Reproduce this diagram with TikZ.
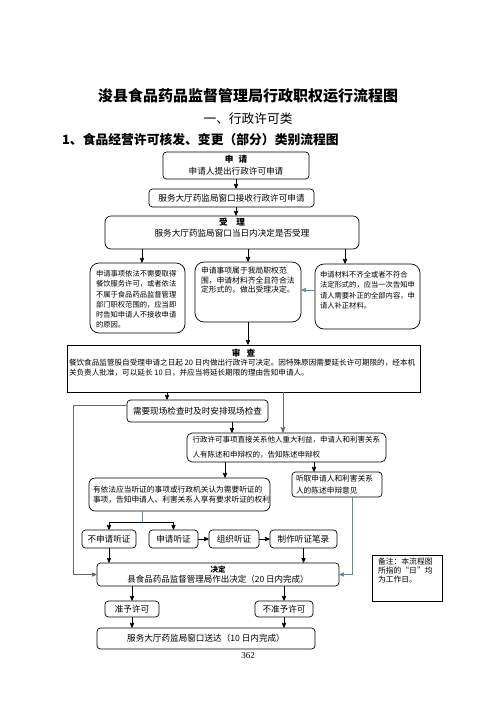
\documentclass[tikz,border=0pt]{standalone}
\usepackage{fontspec}
\setmainfont{Noto Sans CJK SC}
\newfontfamily\pagefont{Liberation Serif}
\usetikzlibrary{arrows}
\definecolor{linkblue}{RGB}{96,136,176}
\definecolor{linkgray}{RGB}{105,105,105}

\begin{document}
\begin{tikzpicture}[
  x=1pt, y=-1pt,
  >=stealth',
  stepbox/.style={draw,line width=0.7pt,rounded corners=3.5pt,inner sep=0pt,align=center,font=\fontsize{8.6}{12}\selectfont},
  tallbox/.style={draw,line width=0.7pt,rounded corners=9pt,inner xsep=6pt,inner ysep=0pt},
  flow/.style={->,line width=0.8pt},
  blueflow/.style={->,line width=0.8pt,linkblue},
  grayflow/.style={->,line width=1pt,linkgray}
  ]

  \useasboundingbox (0,0) rectangle (496,702);

  % headings
  \node[font=\bfseries\fontsize{15}{15}\selectfont] (title) at (248,96) {浚县食品药品监督管理局行政职权运行流程图};
  \node[font=\fontsize{12.7}{13}\selectfont] (kind) at (248,119) {一、行政许可类};
  \node[anchor=west,inner sep=0pt,font=\bfseries\fontsize{12.8}{13}\selectfont] (cat) at (62,140) {1、食品经营许可核发、变更（部分）类别流程图};

  % application and acceptance
  \node[stepbox,minimum width=146,minimum height=27] (apply) at (236,165.5) {\textbf{申\hspace{0.6em}请}\\申请人提出行政许可申请};
  \node[stepbox,minimum width=165,minimum height=18] (recv) at (231.5,198) {服务大厅药监局窗口接收行政许可申请};
  \node[tallbox,rounded corners=6pt,inner xsep=0pt] (accept) at (232,232.5) {\parbox[c][33pt][t]{254pt}{\centering\fontsize{8.6}{11}\selectfont\vspace*{1.7pt}\textbf{受\hspace{1em}理}\\服务大厅药监局窗口当日内决定是否受理}};

  \node[tallbox] (reject) at (137.5,298) {\parbox[c][70pt][t]{83pt}{\fontsize{7.3}{10.3}\selectfont\vspace*{7.3pt}申请事项依法不需要取得\\餐饮服务许可，或者依法\\不属于食品药品监督管理\\部门职权范围的，应当即\\时告知申请人不接收申请\\的原因。}};
  \node[tallbox] (okbox) at (248,292) {\parbox[c][60pt][t]{94pt}{\fontsize{7.8}{9.7}\selectfont\vspace*{5pt}申请事项属于我局职权范\\围，申请材料齐全且符合法\\定形式的，做出受理决定。}};
  \node[tallbox,inner xsep=5pt] (fixbox) at (367.5,296.5) {\parbox[c][65pt][t]{95pt}{\fontsize{7.3}{10.3}\selectfont\vspace*{7.2pt}申请材料不齐全或者不符合\\法定形式的，应当一次告知申\\请人需要补正的全部内容，申\\请人补正材料。}};

  % review
  \node[draw,line width=0.7pt,inner xsep=2pt,inner ysep=0pt] (review) at (243.5,368.5) {\parbox[c][47pt][t]{349pt}{\fontsize{7.6}{9.8}\selectfont\vspace*{3.7pt}\makebox[\linewidth]{\fontsize{8.6}{9.8}\selectfont\bfseries 审\hspace{0.7em}查}\\餐饮食品监管股自受理申请之日起 20 日内做出行政许可决定。因特殊原因需要延长许可期限的，经本机\\关负责人批准，可以延长 10 日，并应当将延长期限的理由告知申请人。}};

  \node[stepbox,minimum width=141,minimum height=22] (onsite) at (197.5,411) {需要现场检查时及时安排现场检查};
  \node[stepbox,rounded corners=5pt,minimum width=199,minimum height=29,text width=188,align=left,font=\fontsize{7.5}{15}\selectfont] (notice) at (286.5,447.5) {行政许可事项直接关系他人重大利益，申请人和利害关系\\人有陈述和申辩权的，告知陈述申辩权};
  \node[stepbox,rounded corners=6pt,minimum width=181,minimum height=33,text width=173,align=left,font=\fontsize{7.7}{10}\selectfont] (hearing) at (179.5,494.5) {有依法应当听证的事项或行政机关认为需要听证的\\事项，告知申请人、利害关系人享有要求听证的权利};
  \node[stepbox,minimum width=90,minimum height=25,text width=82,align=left,font=\fontsize{7.7}{12}\selectfont] (listen) at (337,484.5) {听取申请人和利害关系\\人的陈述申辩意见};

  % hearing row
  \node[stepbox,minimum width=54,minimum height=18] (nohear) at (109,539) {不申请听证};
  \node[stepbox,minimum width=49,minimum height=18] (askhear) at (173.5,539) {申请听证};
  \node[stepbox,minimum width=50,minimum height=18] (orghear) at (234,539) {组织听证};
  \node[stepbox,minimum width=67,minimum height=18] (record) at (303.5,539) {制作听证笔录};

  % decision and delivery
  \node[stepbox,minimum width=242,minimum height=23,font=\fontsize{8.5}{10}\selectfont] (decide) at (218,574.5) {{\fontsize{7.5}{10}\selectfont\bfseries 决定}\\县食品药品监督管理局作出决定（20 日内完成）};
  \node[stepbox,minimum width=54,minimum height=16] (grant) at (132,609) {准予许可};
  \node[stepbox,minimum width=58,minimum height=16] (deny) at (284,609) {不准予许可};
  \node[stepbox,minimum width=218,minimum height=21] (deliver) at (206,638.5) {服务大厅药监局窗口送达（10 日内完成）};

  \node[draw,line width=0.8pt,inner xsep=6pt,inner ysep=0pt] (remark) at (407,578) {\parbox[c][46pt][t]{58pt}{\fontsize{7.8}{9}\selectfont\vspace*{3.1pt}备注：本流程图\\所指的“日”均\\为工作日。}};
  \node[font=\pagefont\fontsize{9}{9}\selectfont] (page) at (248,656) {362};

  % connectors
  \draw[flow] (apply.south) -- (apply.south |- recv.north);
  \draw[flow] (apply.south |- recv.south) -- (apply.south |- accept.north);
  \draw[flow] (accept.south -| 142,0) -- (reject.north -| 142,0);
  \draw[flow] (accept.south -| okbox.north) -- (okbox.north);
  \draw[flow] (accept.south -| 345,0) -- (fixbox.north -| 345,0);
  \draw[blueflow] (fixbox.west |- 0,290) -- (okbox.east |- 0,290);
  \draw[flow] (okbox.south) -- (okbox.south |- review.north);

  \draw[flow] (review.south -| 167,0) -- (onsite.north -| 167,0);
  \draw[grayflow] (review.south -| 283,0) -- (notice.north -| 283,0);
  \draw[flow] (onsite.south -| 232,0) -- (notice.north -| 232,0);
  \draw[->,line width=0.8pt,linkgray] ([yshift=6pt]onsite.west) -- ++(-53,0) |- (decide.west);
  \draw[flow] (notice.south -| 225,0) -- (hearing.north -| 225,0);
  \draw[flow] (notice.south -| 314,0) -- (listen.north -| 314,0);

  \coordinate (split) at (142,522);
  \draw[line width=0.8pt,linkblue] (hearing.south -| split) -- (split);
  \draw[flow] (split) -| (nohear.north);
  \draw[flow] (split) -| (askhear.north);
  \draw[flow] (askhear) -- (orghear);
  \draw[flow] (orghear) -- (record);
  \draw[flow] (nohear.south) -- (nohear.south |- decide.north);
  \draw[flow] (record.south) -- (record.south |- decide.north);
  \draw[blueflow] ([xshift=15pt]listen.south) |- (decide.east);

  \draw[flow] (decide.south -| grant) -- (grant);
  \draw[flow] (decide.south -| deny) -- (deny);
  \draw[flow] (grant) -- (grant |- deliver.north);
  \draw[flow] (deny) -- (deny |- deliver.north);

\end{tikzpicture}
\end{document}
